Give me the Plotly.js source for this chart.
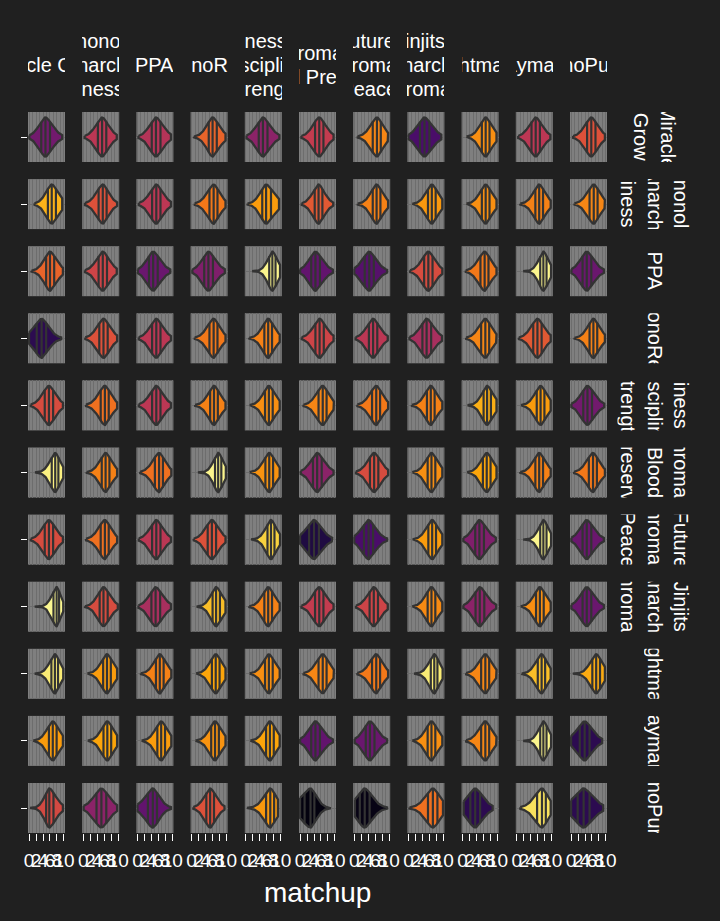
<!DOCTYPE html>
<html><head><meta charset="utf-8">
<script src="https://cdn.plot.ly/plotly-3.0.1.min.js"></script>
<style>html,body{margin:0;padding:0;background:#202020;} #chart{width:720px;height:921px;}</style>
</head><body><div id="chart"></div>
<script>
// ---------- DATA ----------
const NB = "\u00a0";
const colLabelLines = [
  ["Miracle Grow"],
  ["nonol", "Anarchy", "iness"],
  ["PPA"],
  ["MonoRed" + NB],
  ["iness", "Discipline", "Strength"],
  ["Chromatic", "Blood Preserve"],
  ["Future" + NB + NB, "Chromatic", "Peace" + NB],
  ["Jinjits" + NB + NB, "Anarchy", "Chromatic"],
  ["Nightmare" + NB + NB],
  ["Daymare" + NB],
  ["MonoPurple"]
];
const rowLabelLines = [
  ["Miracle", "Grow"],
  ["nonol", "Anarchy", "iness"],
  ["PPA"],
  ["MonoRed"],
  ["iness", "Discipline", "Strength"],
  ["Chromatic", "Blood", "Preserve"],
  ["Future", "Chromatic", "Peace"],
  ["Jinjits", "Anarchy", "Chromatic"],
  ["Nightmare"],
  ["Daymare"],
  ["MonoPurple"]
];
const xTickVals = [0, 2, 4, 6, 8, 10];
const xTickText = ["0", "2", "4", "6", "8", "10"];
const xTitle = "matchup";

// matchup score distributions per panel (rows x columns): min, quartiles, max
const lows = [
  [0.1, 0.4, 0.3, 0.7, 0.2, 0.4, 1.0, 0.0, 1.1, 0.4, 0.6],
  [1.6, 0.5, 0.4, 0.9, 0.5, 0.5, 1.0, 1.1, 1.1, 1.0, 1.0],
  [0.7, 0.5, 0.1, 0.2, 1.8, 0.0, 0.0, 0.5, 0.9, 1.8, 0.1],
  [0.0, 0.6, 0.4, 0.9, 1.0, 0.5, 0.4, 0.3, 1.0, 0.6, 1.0],
  [0.5, 0.8, 0.4, 1.0, 1.1, 1.0, 0.9, 1.0, 1.4, 1.2, 0.1],
  [1.7, 1.0, 0.8, 1.8, 1.1, 0.2, 0.5, 1.1, 1.3, 1.0, 0.9],
  [0.5, 0.8, 0.4, 0.6, 1.5, 0.0, 0.0, 1.2, 0.2, 1.8, 0.1],
  [1.6, 0.5, 0.3, 1.4, 1.0, 0.4, 0.5, 1.1, 0.2, 1.1, 0.1],
  [1.6, 1.2, 1.0, 1.3, 1.1, 1.0, 0.9, 1.6, 1.0, 1.4, 0.5],
  [1.2, 1.3, 1.2, 1.1, 1.3, 0.0, 0.1, 1.1, 1.0, 1.8, 0.0],
  [0.3, 0.1, 0.0, 0.5, 0.3, 0.0, 0.2, 0.3, 0.3, 1.0, 0.0]
];
const q1s = [
  [3.5, 4.2, 4.1, 4.9, 3.7, 4.3, 5.3, 3.3, 5.5, 4.2, 4.6],
  [5.4, 4.4, 4.2, 5.1, 4.7, 4.2, 5.3, 5.6, 5.5, 5.3, 5.3],
  [4.9, 4.4, 3.3, 3.6, 6.7, 3.2, 3.0, 4.5, 5.1, 6.7, 3.3],
  [2.2, 4.6, 4.2, 5.1, 5.3, 4.4, 4.2, 4.0, 5.3, 4.7, 5.3],
  [4.5, 5.0, 4.2, 5.3, 5.5, 5.3, 5.1, 5.3, 6.0, 5.7, 3.5],
  [6.5, 5.3, 5.0, 6.7, 5.6, 3.7, 4.5, 5.5, 5.8, 5.3, 5.1],
  [4.5, 5.0, 4.2, 4.6, 6.2, 2.6, 2.8, 5.7, 3.6, 6.7, 3.3],
  [7.0, 4.7, 4.0, 6.0, 5.3, 4.3, 4.4, 5.5, 3.7, 5.5, 3.3],
  [6.4, 5.7, 5.3, 5.8, 5.5, 5.3, 5.1, 6.4, 5.3, 6.0, 6.1],
  [5.7, 5.8, 5.7, 5.6, 5.8, 3.2, 3.3, 5.5, 5.3, 6.7, 2.5],
  [4.9, 3.8, 3.0, 4.2, 5.8, 1.3, 1.6, 5.6, 2.2, 5.8, 1.9]
];
const medians = [
  [4.7, 5.4, 5.3, 6.0, 4.9, 5.5, 6.5, 4.6, 6.6, 5.4, 5.8],
  [6.5, 5.6, 5.4, 6.3, 5.8, 5.3, 6.4, 6.7, 6.6, 6.4, 6.5],
  [6.0, 5.6, 4.5, 4.8, 7.6, 4.4, 4.3, 5.7, 6.3, 7.6, 4.5],
  [3.6, 5.8, 5.4, 6.3, 6.4, 5.6, 5.4, 5.2, 6.5, 5.9, 6.4],
  [5.7, 6.2, 5.4, 6.4, 6.6, 6.5, 6.3, 6.4, 7.0, 6.8, 4.7],
  [7.5, 6.4, 6.2, 7.6, 6.7, 4.9, 5.7, 6.6, 6.9, 6.4, 6.3],
  [5.7, 6.2, 5.4, 5.8, 7.2, 4.0, 4.1, 6.8, 4.8, 7.6, 4.5],
  [7.9, 5.8, 5.2, 7.0, 6.4, 5.5, 5.6, 6.6, 4.9, 6.6, 4.5],
  [7.4, 6.8, 6.4, 6.9, 6.6, 6.5, 6.3, 7.4, 6.5, 7.1, 7.2],
  [6.8, 6.9, 6.8, 6.7, 6.9, 4.4, 4.5, 6.6, 6.5, 7.6, 3.9],
  [5.8, 5.2, 4.4, 5.3, 7.0, 3.0, 3.0, 7.0, 3.6, 7.2, 3.6]
];
const q3s = [
  [6.0, 6.6, 6.6, 7.2, 6.2, 6.7, 7.6, 6.0, 7.7, 6.6, 7.0],
  [7.7, 6.7, 6.6, 7.4, 7.2, 6.4, 7.5, 7.8, 7.7, 7.5, 7.6],
  [7.2, 6.8, 5.8, 6.1, 8.5, 5.7, 5.6, 6.9, 7.4, 8.5, 5.8],
  [4.9, 7.0, 6.6, 7.4, 7.5, 6.8, 6.6, 6.5, 7.6, 7.1, 7.5],
  [6.9, 7.3, 6.6, 7.5, 7.7, 7.6, 7.4, 7.5, 8.1, 7.9, 6.0],
  [8.4, 7.5, 7.3, 8.5, 7.8, 6.2, 6.9, 7.7, 8.0, 7.5, 7.4],
  [6.9, 7.3, 6.6, 7.0, 8.2, 5.4, 5.4, 7.9, 6.1, 8.5, 5.8],
  [8.6, 7.0, 6.5, 8.1, 7.5, 6.7, 6.8, 7.7, 6.2, 7.7, 5.8],
  [8.3, 7.9, 7.5, 8.0, 7.7, 7.6, 7.4, 8.3, 7.6, 8.1, 8.3],
  [7.9, 8.0, 7.9, 7.8, 8.0, 5.7, 5.8, 7.7, 7.6, 8.5, 5.3],
  [7.0, 6.6, 5.6, 6.4, 8.1, 4.1, 4.4, 8.3, 5.0, 8.3, 5.3]
];
const highs = [
  [9.5, 9.6, 9.6, 9.7, 9.6, 9.6, 9.7, 9.4, 9.7, 9.6, 9.7],
  [9.5, 9.7, 9.6, 9.7, 9.5, 9.5, 9.7, 9.7, 9.7, 9.7, 9.7],
  [9.7, 9.6, 9.4, 9.5, 9.8, 9.4, 9.4, 9.7, 9.7, 9.8, 9.4],
  [9.2, 9.7, 9.6, 9.7, 9.7, 9.6, 9.6, 9.6, 9.7, 9.7, 9.7],
  [9.7, 9.7, 9.6, 9.7, 9.7, 9.7, 9.7, 9.7, 9.7, 9.7, 9.5],
  [9.8, 9.7, 9.7, 9.8, 9.7, 9.6, 9.7, 9.7, 9.7, 9.7, 9.7],
  [9.7, 9.7, 9.6, 9.7, 9.8, 9.2, 9.4, 9.7, 9.5, 9.8, 9.4],
  [9.8, 9.9, 9.6, 9.7, 9.7, 9.6, 9.6, 9.7, 9.6, 9.7, 9.4],
  [9.8, 9.7, 9.7, 9.7, 9.7, 9.7, 9.7, 9.8, 9.7, 9.7, 9.7],
  [9.7, 9.7, 9.7, 9.7, 9.7, 9.4, 9.4, 9.7, 9.7, 9.8, 8.9],
  [9.7, 9.7, 9.6, 9.4, 9.2, 8.8, 9.4, 9.9, 8.6, 9.7, 9.2]
];
// mean matchup per panel (drives the fill colour)
const means = [
  [4.78, 5.50, 5.42, 6.10, 5.02, 5.58, 6.42, 4.38, 6.50, 5.50, 5.90],
  [6.80, 5.90, 5.50, 6.30, 6.62, 5.98, 6.38, 6.58, 6.50, 6.38, 6.42],
  [6.10, 5.70, 4.70, 4.90, 7.40, 4.62, 4.50, 5.82, 6.30, 7.40, 4.70],
  [4.10, 5.90, 5.50, 6.30, 6.38, 5.70, 5.50, 5.30, 6.42, 5.98, 6.38],
  [5.82, 6.22, 5.50, 6.38, 6.50, 6.42, 6.30, 6.38, 6.78, 6.62, 4.78],
  [7.35, 6.38, 6.22, 7.40, 6.54, 5.02, 5.82, 6.50, 6.70, 6.38, 6.30],
  [5.82, 6.22, 5.50, 5.90, 7.05, 3.98, 4.38, 6.62, 4.90, 7.40, 4.70],
  [7.42, 5.82, 5.30, 6.90, 6.38, 5.58, 5.70, 6.46, 5.02, 6.50, 4.70],
  [7.30, 6.62, 6.38, 6.70, 6.50, 6.42, 6.30, 7.30, 6.42, 6.90, 6.75],
  [6.62, 6.70, 6.62, 6.54, 6.70, 4.62, 4.70, 6.50, 6.42, 7.40, 4.10],
  [5.78, 5.02, 4.62, 5.90, 6.58, 3.58, 3.62, 6.22, 4.10, 7.20, 4.10]
];
const colorMin = 3.5, colorMax = 7.5;

// ---------- STYLE / LAYOUT ----------
const inferno = ["#000004","#160b39","#420a68","#6a176e","#932667","#bc3754","#dd513a","#f37819","#fca50a","#f6d746","#fcffa4"];
function hex2rgb(h){return [parseInt(h.slice(1,3),16),parseInt(h.slice(3,5),16),parseInt(h.slice(5,7),16)];}
function infernoColor(v){
  let t=(v-colorMin)/(colorMax-colorMin); t=Math.max(0,Math.min(1,t));
  const p=t*10, i=Math.min(9,Math.floor(p)), f=p-i;
  const a=hex2rgb(inferno[i]), b=hex2rgb(inferno[i+1]);
  return 'rgb('+a.map((x,k)=>Math.round(x+(b[k]-x)*f)).join(',')+')';
}

const W=720, H=921, ML=28, MR=113, MT=112, MB=88;
const plotW=W-ML-MR, plotH=H-MT-MB;
const nR=11, nC=11;
const colStep=54.2, panelW=37, rowStep=67.1, panelH=50;
const FONT="Liberation Sans, Arial, sans-serif";
const TXT="#ffffff";
const OUTLINE="#333333";
const GRID="#6d6d6d";

const xp = px => (px-ML)/plotW;
const yp = py => (H-MB-py)/plotH;
const xRef = c => c===0 ? 'x' : 'x'+(c+1);
const yRef = r => r===0 ? 'y' : 'y'+(r+1);
const xKey = c => c===0 ? 'xaxis' : 'xaxis'+(c+1);
const yKey = r => r===0 ? 'yaxis' : 'yaxis'+(r+1);

const layout = {
  width:W, height:H, margin:{l:ML,r:MR,t:MT,b:MB},
  paper_bgcolor:'#202020', plot_bgcolor:'#7f7f7f',
  showlegend:false, font:{family:FONT,color:TXT},
  annotations:[]
};
for(let c=0;c<nC;c++){
  const x0=c*colStep/plotW, x1=(c*colStep+panelW)/plotW;
  layout[xKey(c)] = {
    domain:[x0,Math.min(1,x1)], range:[-0.3,10.3], anchor:yRef(nR-1),
    tickmode:'array', tickvals:xTickVals, ticktext:xTickText, tickangle:0,
    ticks:'outside', ticklen:7, tickwidth:1, tickcolor:TXT,
    ticklabelstandoff:3,
    tickfont:{family:FONT,size:19,color:TXT},
    showgrid:true, gridcolor:GRID, gridwidth:1,
    minor:{tickvals:[1,3,5,7,9], showgrid:true, gridcolor:GRID, gridwidth:1, ticks:''},
    zeroline:false, showline:false, fixedrange:true
  };
}
for(let r=0;r<nR;r++){
  const top=1-r*rowStep/plotH, bot=top-panelH/plotH;
  layout[yKey(r)] = {
    domain:[Math.max(0,bot),top], range:[-0.6,0.6], anchor:'x',
    tickmode:'array', tickvals:[0], ticktext:[''],
    ticks:'outside', ticklen:6, tickwidth:1, tickcolor:TXT,
    showgrid:true, gridcolor:GRID, gridwidth:1,
    zeroline:false, showline:false, fixedrange:true
  };
}

// ---------- VIOLINS ----------
const traces=[];
const HALF=0.47, POW=1.7;
for(let r=0;r<nR;r++){
  for(let c=0;c<nC;c++){
    const lo=lows[r][c], a=q1s[r][c], m=medians[r][c], b=q3s[r][c], hi=highs[r][c];
    const sL=(m-a)/0.6745, sR=(b-m)/0.6745;
    const half = x => { const s = x<m ? sL : sR; const z=Math.abs(x-m)/s; return HALF*Math.exp(-0.5*Math.pow(z,POW)); };
    const N=80, xs=[], ys=[];
    for(let i=0;i<=N;i++){ const x=lo+(hi-lo)*i/N; xs.push(x); ys.push(half(x)); }
    for(let i=N;i>=0;i--){ const x=lo+(hi-lo)*i/N; xs.push(x); ys.push(-half(x)); }
    xs.push(xs[0]); ys.push(ys[0]);
    traces.push({type:'scatter',mode:'lines',x:xs,y:ys,fill:'toself',
      fillcolor:infernoColor(means[r][c]), line:{color:OUTLINE,width:2.3},
      xaxis:xRef(c), yaxis:yRef(r), hoverinfo:'skip', showlegend:false});
    const qx=[], qy=[];
    [a,m,b].forEach(q=>{ const w=half(q); qx.push(q,q,null); qy.push(-w,w,null); });
    traces.push({type:'scatter',mode:'lines',x:qx,y:qy,line:{color:OUTLINE,width:2.2},
      xaxis:xRef(c), yaxis:yRef(r), hoverinfo:'skip', showlegend:false});
  }
}

// ---------- STRIPS ----------
const colY = {1:[65], 2:[53,77], 3:[41,65,89]};
for(let c=0;c<nC;c++){
  const lines=colLabelLines[c], cx=ML+c*colStep+panelW/2;
  lines.forEach((t,i)=>{
    layout.annotations.push({xref:'paper',yref:'paper',x:xp(cx),y:yp(colY[lines.length][i]),
      text:t,showarrow:false,xanchor:'center',yanchor:'middle',align:'center',
      width:panelW,borderpad:0,borderwidth:0,font:{family:FONT,size:20,color:TXT}});
  });
}
const rowX = {1:[655], 2:[668,641], 3:[681,655,628]};
for(let r=0;r<nR;r++){
  const lines=rowLabelLines[r], cy=MT+r*rowStep+panelH/2;
  lines.forEach((t,i)=>{
    layout.annotations.push({xref:'paper',yref:'paper',x:xp(rowX[lines.length][i]),y:yp(cy),
      text:t,showarrow:false,xanchor:'center',yanchor:'middle',align:'center',textangle:90,
      width:panelH,borderpad:0,borderwidth:0,font:{family:FONT,size:20,color:TXT}});
  });
}
layout.annotations.push({xref:'paper',yref:'paper',x:xp(317.5),y:yp(892),text:xTitle,
  showarrow:false,xanchor:'center',yanchor:'middle',font:{family:FONT,size:28,color:TXT}});

Plotly.newPlot('chart',traces,layout,{displayModeBar:false,staticPlot:true});
</script></body></html>
